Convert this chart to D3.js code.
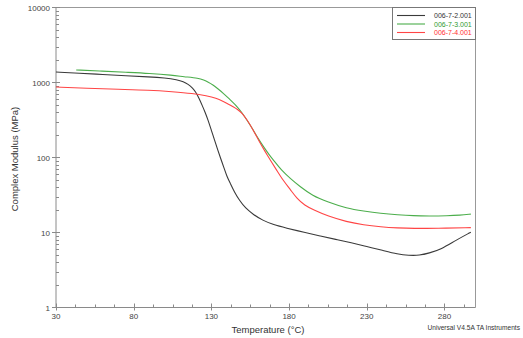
<!DOCTYPE html>
<html>
<head>
<meta charset="utf-8">
<script src="https://cdn.jsdelivr.net/npm/d3@7"></script>
<style>
  html, body { margin: 0; padding: 0; background: #fff; }
  svg { display: block; font-family: "Liberation Sans", Arial, sans-serif; }
</style>
</head>
<body>
<svg id="chart" width="523" height="338"></svg>
<script>
// Complex modulus (MPa) versus temperature (°C) for three samples
const seriesNames = ["006-7-2.001", "006-7-3.001", "006-7-4.001"];
const seriesColors = ["#3a3a3a", "#4cae4c", "#ff4545"];
const legendTextColors = ["#333333", "#2f9a2f", "#ff3030"];

const temp2 = [30, 45, 60, 75, 90, 100, 108, 112, 115, 118, 120, 122, 124, 126, 128, 130, 132, 134, 136, 138, 140, 142, 145, 148, 152, 157, 163, 170, 178, 190, 200, 210, 220, 230, 240, 250, 257, 264, 270, 278, 287, 297];
const mod2 = [1380, 1330, 1280, 1230, 1190, 1150, 1090, 1030, 950, 840, 740, 620, 500, 400, 310, 230, 172, 128, 97, 74, 56, 46, 34, 27, 21, 17.4, 14.5, 12.7, 11.5, 10.0, 9.0, 8.1, 7.3, 6.5, 5.8, 5.15, 4.95, 4.95, 5.3, 6.0, 7.8, 10.1];

const temp3 = [43, 60, 75, 90, 105, 112, 122, 125, 128, 131, 134, 138, 141, 144, 147, 150, 153, 157, 160, 163.6, 167, 170, 175, 181, 187, 195, 205, 217, 228, 239, 250, 260, 270, 282, 290, 297];
const mod3 = [1470, 1420, 1370, 1325, 1250, 1195, 1140, 1080, 1010, 930, 830, 710, 617, 541, 466, 389, 313, 232, 180, 139, 110, 92, 68, 52, 41, 31, 25.5, 21, 19.3, 18, 17.2, 16.7, 16.6, 16.7, 17.0, 17.6];

const temp4 = [30, 50, 70, 90, 105, 118, 127, 133, 138, 141, 144, 147, 150, 153, 157, 161, 164.7, 168, 172, 176, 181, 185, 190, 196, 205, 217, 228, 239, 250, 260, 275, 297];
const mod4 = [870, 835, 810, 793, 755, 716, 665, 620, 553, 515, 474, 436, 389, 316, 232, 160, 119, 92, 68, 50, 37, 28.5, 23, 19.9, 16.5, 13.9, 12.6, 11.9, 11.5, 11.3, 11.4, 11.6];

const xMajorTicks = [30, 80, 130, 180, 230, 280];
const yMajorTicks = [1, 10, 100, 1000, 10000];
const xTitle = "Temperature (°C)";
const yTitle = "Complex Modulus (MPa)";
const footer = "Universal V4.5A TA Instruments";

const series = [
  { name: seriesNames[0], temps: temp2, values: mod2 },
  { name: seriesNames[1], temps: temp3, values: mod3 },
  { name: seriesNames[2], temps: temp4, values: mod4 }
];

const svg = d3.select("#chart");
const plot = { left: 56, right: 475.5, top: 7.5, bottom: 307.5 };
const axisColor = "#8a8a8a";
const labelColor = "#444";

const x = d3.scaleLinear().domain([30, 300]).range([plot.left, plot.right]);
const y = d3.scaleLog().domain([1, 10000]).range([plot.bottom, plot.top]);

// frame: top and right borders
svg.append("path")
  .attr("d", `M${plot.left},${plot.top}H${plot.right}V${plot.bottom}`)
  .attr("fill", "none").attr("stroke", "#999").attr("stroke-width", 1);

// x axis
const xMinor = d3.range(30, 300.01, 12.5).filter(v => !xMajorTicks.includes(v));
const gx = svg.append("g");
gx.append("line")
  .attr("x1", plot.left).attr("x2", plot.right)
  .attr("y1", plot.bottom).attr("y2", plot.bottom)
  .attr("stroke", axisColor);
gx.selectAll(".xminor").data(xMinor).join("line")
  .attr("x1", d => Math.round(x(d)) + 0.5).attr("x2", d => Math.round(x(d)) + 0.5)
  .attr("y1", plot.bottom).attr("y2", plot.bottom - 3)
  .attr("stroke", axisColor);
gx.selectAll(".xmajor").data(xMajorTicks).join("line")
  .attr("x1", d => Math.round(x(d)) + 0.5).attr("x2", d => Math.round(x(d)) + 0.5)
  .attr("y1", plot.bottom + 3).attr("y2", plot.bottom - 4)
  .attr("stroke", axisColor);
gx.selectAll("text").data(xMajorTicks).join("text")
  .attr("x", d => x(d)).attr("y", plot.bottom + 11.5)
  .attr("text-anchor", "middle").attr("font-size", 8)
  .attr("fill", labelColor).text(d => d);

// y axis
const yMinor = [];
yMajorTicks.slice(0, -1).forEach(d => { for (let k = 2; k <= 9; k++) yMinor.push(d * k); });
const gy = svg.append("g");
gy.append("line")
  .attr("x1", plot.left).attr("x2", plot.left)
  .attr("y1", plot.top).attr("y2", plot.bottom)
  .attr("stroke", axisColor);
gy.selectAll(".yminor").data(yMinor).join("line")
  .attr("x1", plot.left).attr("x2", plot.left + 3)
  .attr("y1", d => Math.round(y(d)) + 0.5).attr("y2", d => Math.round(y(d)) + 0.5)
  .attr("stroke", axisColor);
gy.selectAll(".ymajor").data(yMajorTicks).join("line")
  .attr("x1", plot.left - 4).attr("x2", plot.left + 4)
  .attr("y1", d => y(d)).attr("y2", d => y(d))
  .attr("stroke", axisColor);
gy.selectAll("text").data(yMajorTicks).join("text")
  .attr("x", plot.left - 6).attr("y", d => y(d) + 3)
  .attr("text-anchor", "end").attr("font-size", 8)
  .attr("fill", labelColor).text(d => d);

// axis titles
svg.append("text")
  .attr("x", 268).attr("y", 332.5)
  .attr("text-anchor", "middle").attr("font-size", 9.5)
  .attr("fill", "#333").text(xTitle);
svg.append("text")
  .attr("transform", `translate(17.5,159) rotate(-90)`)
  .attr("text-anchor", "middle").attr("font-size", 9.5)
  .attr("fill", "#333").text(yTitle);
svg.append("text")
  .attr("x", 520).attr("y", 330)
  .attr("text-anchor", "end").attr("font-size", 6.6)
  .attr("fill", "#333").text(footer);

// curves, smoothed through the sampled readings
const line = d3.line()
  .x(d => x(d[0])).y(d => y(d[1]))
  .curve(d3.curveBasis);
series.forEach((s, i) => {
  const pts = s.temps.map((t, j) => [t, s.values[j]]);
  svg.append("path")
    .datum(pts)
    .attr("d", line)
    .attr("fill", "none")
    .attr("stroke", seriesColors[i])
    .attr("stroke-width", 1.1);
});

// legend
const lg = svg.append("g");
lg.append("rect")
  .attr("x", 392.5).attr("y", plot.top).attr("width", plot.right - 392.5).attr("height", 32)
  .attr("fill", "#fff").attr("stroke", "#777");
seriesNames.forEach((n, i) => {
  const yy = 15.5 + i * 8.5;
  lg.append("line")
    .attr("x1", 397).attr("x2", 425).attr("y1", yy).attr("y2", yy)
    .attr("stroke", seriesColors[i]).attr("stroke-width", 1.1);
  lg.append("text")
    .attr("x", 434).attr("y", yy + 2.5)
    .attr("font-size", 7).attr("fill", legendTextColors[i]).text(n);
});
</script>
</body>
</html>
